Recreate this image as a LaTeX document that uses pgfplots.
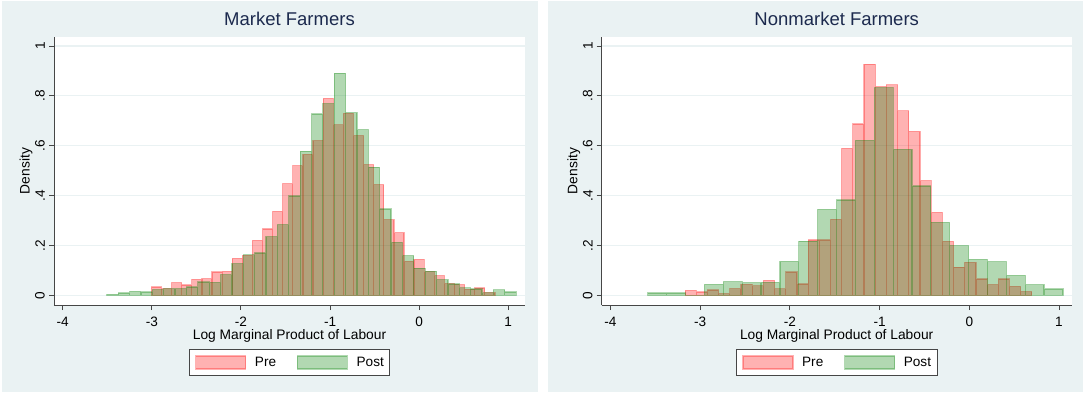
\documentclass[border=0pt]{standalone}
\usepackage{pgfplots}
\pgfplotsset{compat=1.18}
\usepackage{pgfplotstable}
\usepackage{fontspec}
\setmainfont{Liberation Sans}
\definecolor{bgcol}{RGB}{234,242,243}
\definecolor{titlecol}{RGB}{28,42,78}
\definecolor{axcol}{RGB}{70,70,70}
\definecolor{postgreen}{RGB}{0,128,0}
\definecolor{prered}{RGB}{255,0,0}

\pgfplotstableread{
x y
-3.005 0.033
-2.892 0.027
-2.778 0.051
-2.665 0.041
-2.551 0.064
-2.438 0.067
-2.325 0.093
-2.211 0.096
-2.098 0.148
-1.984 0.160
-1.871 0.220
-1.758 0.266
-1.644 0.337
-1.531 0.448
-1.417 0.520
-1.304 0.565
-1.191 0.620
-1.077 0.790
-0.964 0.684
-0.850 0.730
-0.737 0.640
-0.624 0.524
-0.510 0.444
-0.397 0.303
-0.283 0.251
-0.170 0.136
-0.057 0.144
0.057 0.094
0.170 0.079
0.284 0.047
0.397 0.043
0.510 0.024
0.624 0.029
0.737 0.011
0.851 0
}\leftpre

\pgfplotstableread{
x y
-3.505 0.004
-3.377 0.009
-3.250 0.016
-3.122 0.013
-2.995 0.023
-2.867 0.027
-2.739 0.027
-2.612 0.033
-2.484 0.053
-2.357 0.052
-2.229 0.083
-2.101 0.127
-1.974 0.162
-1.846 0.170
-1.719 0.235
-1.591 0.283
-1.463 0.398
-1.336 0.578
-1.208 0.727
-1.081 0.769
-0.953 0.891
-0.825 0.733
-0.698 0.664
-0.570 0.514
-0.443 0.346
-0.315 0.212
-0.187 0.159
-0.060 0.109
0.068 0.097
0.195 0.063
0.323 0.045
0.451 0.030
0.578 0.025
0.706 0.010
0.833 0.022
0.961 0.013
1.089 0
}\leftpost

\pgfplotstableread{
x y
-3.168 0.020
-3.043 0.013
-2.919 0.021
-2.794 0.007
-2.669 0.027
-2.545 0.044
-2.420 0.038
-2.295 0.060
-2.170 0.026
-2.046 0.093
-1.921 0.045
-1.796 0.222
-1.672 0.222
-1.547 0.304
-1.422 0.589
-1.298 0.687
-1.173 0.927
-1.048 0.837
-0.923 0.844
-0.799 0.740
-0.674 0.657
-0.549 0.460
-0.425 0.333
-0.300 0.216
-0.175 0.113
-0.051 0.132
0.074 0.065
0.199 0.043
0.324 0.065
0.448 0.036
0.573 0.015
0.698 0
}\rightpre

\pgfplotstableread{
x y
-3.584 0.009
-3.374 0.009
-3.163 0
-2.953 0.044
-2.742 0.055
-2.532 0.051
-2.322 0.052
-2.111 0.136
-1.901 0.217
-1.690 0.345
-1.480 0.382
-1.270 0.621
-1.059 0.833
-0.849 0.585
-0.638 0.438
-0.428 0.292
-0.218 0.199
-0.007 0.144
0.203 0.135
0.414 0.080
0.624 0.043
0.834 0.025
1.045 0
}\rightpost

\pgfplotsset{
  stataaxis/.style={
    scale only axis, height=268pt,
    ymin=-0.039, ymax=1.036,
    axis lines*=left,
    axis line style={-, color=axcol, line width=0.9pt},
    axis background/.style={fill=white},
    ymajorgrids, grid style={color=bgcol, line width=1.2pt},
    tick align=outside, major tick length=5pt,
    tick style={color=axcol, line width=0.9pt},
    xtick={-4,-3,-2,-1,0,1}, xticklabels={-4,-3,-2,-1,0,1},
    ytick={0,0.2,0.4,0.6,0.8,1}, yticklabels={0,.2,.4,.6,.8,1},
    tick label style={font=\fontsize{13.6}{16}\selectfont},
    yticklabel style={rotate=90, anchor=south, inner sep=0pt, inner ysep=4pt},
    xticklabel style={anchor=north, inner sep=0pt, yshift=-6.7pt},
    title style={at={(axis description cs:0.5,1)}, anchor=base, yshift=6pt,
      font=\fontsize{18.5}{22}\selectfont, color=titlecol},
    xlabel style={at={(axis description cs:0.5,0)}, anchor=base, yshift=-34pt,
      font=\fontsize{13.8}{16}\selectfont},
    ylabel style={at={(axis description cs:0,0.5)}, anchor=base, yshift=24.3pt,
      font=\fontsize{13.8}{16}\selectfont},
    xlabel={Log Marginal Product of Labour},
    ylabel={Density},
    legend columns=2,
    legend cell align=left,
    legend style={at={(axis description cs:0.5,-0.1642)}, anchor=north,
      draw=axcol, line width=0.9pt, fill=white, inner xsep=6pt, inner ysep=6pt,
      font=\fontsize{13.6}{16}\selectfont, nodes={inner sep=0pt},
      /tikz/every odd column/.append style={column sep=8.6pt},
      /tikz/every even column/.append style={column sep=20.7pt}},
  },
  histpre/.style={ybar interval, fill=prered, draw=prered, fill opacity=0.3,
    draw opacity=0.3, line width=1.2pt,
    legend image code/.code={\draw[##1] (0pt,-6.5pt) rectangle (50pt,6.5pt);}},
  histpost/.style={ybar interval, fill=postgreen, draw=postgreen, fill opacity=0.3,
    draw opacity=0.3, line width=1.2pt,
    legend image code/.code={\draw[##1] (0pt,-6.5pt) rectangle (50pt,6.5pt);}},
}

\begin{document}
\begin{tikzpicture}[x=1pt,y=1pt]
\useasboundingbox (0,0) rectangle (1083,392);
\fill[white] (0,0) rectangle (1083,392);
\fill[bgcol] (2,0) rectangle (538,391);
\fill[bgcol] (548,0) rectangle (1083,391);

\begin{axis}[stataaxis, at={(54pt,87pt)}, anchor=south west, width=471pt,
  xmin=-4.098, xmax=1.188, title={Market Farmers}]
\addplot[histpre] table[x=x,y=y] {\leftpre};
\addplot[histpost] table[x=x,y=y] {\leftpost};
\legend{Pre,Post}
\end{axis}

\begin{axis}[stataaxis, at={(601.7pt,87pt)}, anchor=south west, width=470pt,
  xmin=-4.098, xmax=1.142, title={Nonmarket Farmers}]
\addplot[histpre] table[x=x,y=y] {\rightpre};
\addplot[histpost] table[x=x,y=y] {\rightpost};
\legend{Pre,Post}
\end{axis}
\end{tikzpicture}
\end{document}
